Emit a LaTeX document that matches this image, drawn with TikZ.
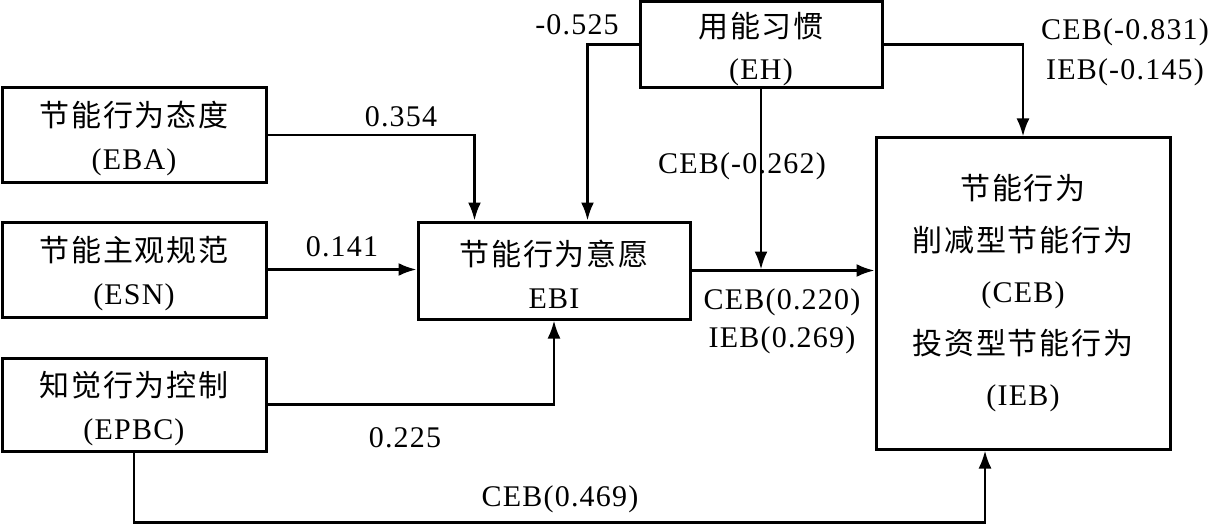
\documentclass[tikz,border=0pt]{standalone}
\usepackage{fontspec}
\setmainfont{Liberation Serif}[LetterSpace=4]
\newfontfamily\cjk{Noto Sans CJK SC}[LetterSpace=6]
\usetikzlibrary{arrows.meta}
\newcommand\zh[1]{{\cjk #1}}
\newcommand\topstrut{\rule{0pt}{33pt}}
\begin{document}
\begin{tikzpicture}[x=1pt,y=-1pt,
  box/.style={draw,line width=3pt,inner sep=0pt,align=center,font=\fontsize{30}{43}\selectfont},
  conn/.style={line width=2.6pt},
  arr/.style={conn,-{Latex[length=18pt,width=13pt]}},
  lbl/.style={inner sep=0pt,align=center,font=\fontsize{30}{40}\selectfont}]
\useasboundingbox (0,0) rectangle (1213,524);
% boxes
\node[box,minimum width=264pt,minimum height=94pt] (eba) at (134,135) {\topstrut\zh{节能行为态度}\\(EBA)};
\node[box,minimum width=264pt,minimum height=95pt] (esn) at (134,269.5) {\topstrut\zh{节能主观规范}\\(ESN)};
\node[box,minimum width=264pt,minimum height=93pt] (epbc) at (134,404.5) {\topstrut\zh{知觉行为控制}\\(EPBC)};
\node[box,minimum width=272pt,minimum height=97pt] (ebi) at (554,270.5) {\topstrut\zh{节能行为意愿}\\EBI};
\node[box,minimum width=242pt,minimum height=86.5pt,font=\fontsize{30}{42}\selectfont] (eh) at (761,44.75) {\topstrut\zh{用能习惯}\\(EH)};
\node[box,minimum width=294pt,minimum height=311pt,font=\fontsize{30}{51.5}\selectfont] (res) at (1023,293.5)
  {\zh{节能行为}\\\zh{削减型节能行为}\\(CEB)\\\zh{投资型节能行为}\\(IEB)};
% labels
\node[lbl] (l354) at (401,117) {0.354};
\node[lbl] (l141) at (342,247) {0.141};
\node[lbl] (l225) at (405,438) {0.225};
\node[lbl] (l525) at (577,25) {-0.525};
\node[lbl] (l262) at (742,166) {CEB(-0.262)};
\node[lbl] (l831) at (1125,52) {CEB(-0.831)\\IEB(-0.145)};
\node[lbl,font=\fontsize{30}{38}\selectfont] (l220) at (782,321) {CEB(0.220)\\IEB(0.269)};
\node[lbl] (l469) at (560,499) {CEB(0.469)};
% connectors
\draw[arr] (eba.east) -| ([xshift=58pt]ebi.north west);
\draw[arr] (esn.east) -- (esn.east -| ebi.west);
\draw[arr] (epbc.east) -| (ebi.south);
\draw[arr] (eh.west) -| ([xshift=171pt]ebi.north west);
\draw[arr] (ebi.east) -- (ebi.east -| res.west);
\draw[arr,shorten >=1pt] (eh.south) -- (eh.south |- ebi.east);
\draw[arr] (eh.east) -| (res.north);
\coordinate (bot) at (134,522.5);
\draw[arr] (epbc.south) -- (bot) -| ([xshift=-38pt]res.south);
\end{tikzpicture}
\end{document}
